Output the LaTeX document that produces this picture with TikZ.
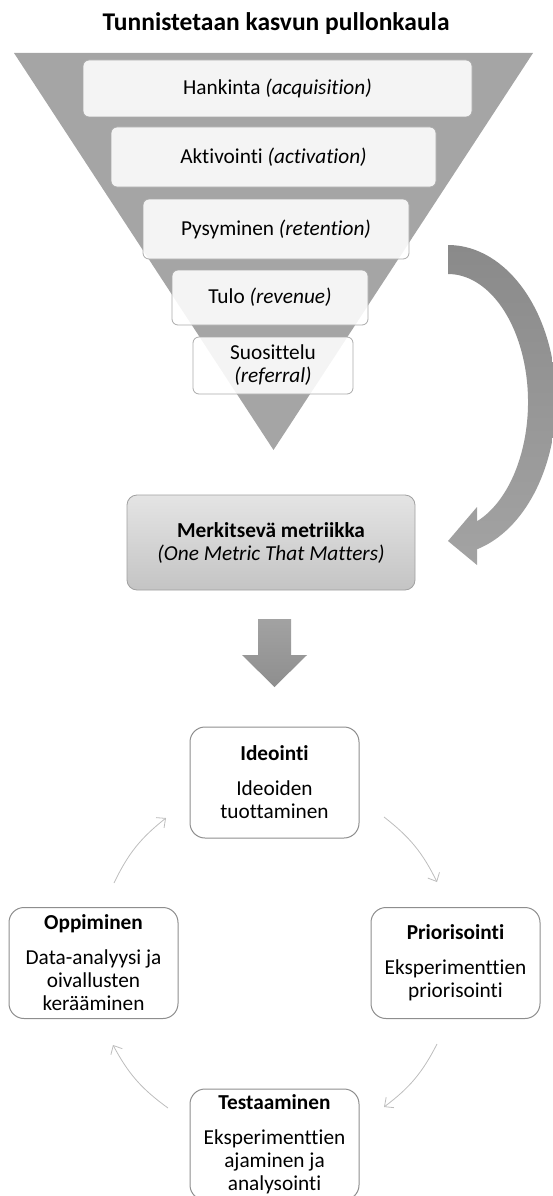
\documentclass[tikz,border=0pt]{standalone}
\usepackage{fontspec}
\setmainfont{Carlito}[Ligatures=CommonOff]
\usetikzlibrary{arrows.meta}

\definecolor{funnelgray}{HTML}{A5A5A5}
\definecolor{stageline}{HTML}{AAAAAA}
\definecolor{bigarrowtop}{HTML}{8A8A8A}
\definecolor{bigarrowbot}{HTML}{A3A3A3}
\definecolor{omtmtop}{HTML}{E4E4E4}
\definecolor{omtmbot}{HTML}{C4C4C4}
\definecolor{omtmline}{HTML}{A0A0A0}
\definecolor{downtop}{HTML}{A2A2A2}
\definecolor{downbot}{HTML}{8E8E8E}
\definecolor{cycleline}{HTML}{8E8E8E}
\definecolor{looparrow}{HTML}{BDBDBD}

\newcommand{\bodysize}{\fontsize{21.3}{23}\selectfont}
\newcommand{\titlesize}{\fontsize{25.5}{28}\selectfont}

\begin{document}
\begin{tikzpicture}[x=1pt,y=1pt,
  every node/.style={inner sep=0pt, outer sep=0pt, font=\bodysize},
  stage/.style={draw=stageline, line width=0.8pt, fill=white, fill opacity=0.88,
    text opacity=1, rounded corners=6pt, align=center},
  phase/.style={draw=cycleline, line width=1pt, fill=white, rounded corners=15pt,
    minimum width=169, minimum height=111, align=center},
  loop/.style={draw=looparrow, line width=0.8pt, bend left=13,
    -{Straight Barb[length=7pt,width=13pt]}}
]
\useasboundingbox (0,0) rectangle (553,-1196);
\clip (0,0) rectangle (553,-1196);

% heading
\node[font=\titlesize\bfseries] (title) at (276,-24) {Tunnistetaan kasvun pullonkaula};

% funnel
\fill[funnelgray] (14,-53) -- (533,-53) -- (273.5,-450) -- cycle;

\node[stage, minimum width=389, minimum height=57] (acq) at (277.5,-88.5)
  {Hankinta \textit{(acquisition)}};
\node[stage, minimum width=325, minimum height=60] (act) at (273.5,-157)
  {Aktivointi \textit{(activation)}};
\node[stage, minimum width=266, minimum height=60] (ret) at (276,-229)
  {Pysyminen \textit{(retention)}};
\node[stage, minimum width=196, minimum height=55] (rev) at (270,-297.5)
  {Tulo \textit{(revenue)}};
\node[stage, minimum width=160, minimum height=57] (ref) at (273,-365.5)
  {Suosittelu\\\textit{(referral)}};

% curved block arrow from the funnel to the metric
\shade[top color=bigarrowtop, bottom color=bigarrowbot]
  (448,-245) arc[start angle=90, end angle=-74.4, x radius=108, y radius=155]
  -- (477,-565) -- (448,-541) -- (477,-507) -- (477,-521.3)
  arc[start angle=-68.75, end angle=90, x radius=80, y radius=128] -- cycle;

% one metric that matters
\node[draw=omtmline, line width=0.8pt, top color=omtmtop, bottom color=omtmbot,
  rounded corners=10pt, minimum width=288, minimum height=95, align=center]
  (omtm) at (271,-542.5)
  {\textbf{Merkitsevä metriikka}\\\textit{(One Metric That Matters)}};

% down block arrow
\shade[top color=downtop, bottom color=downbot]
  (258,-619) -- (291,-619) -- (291,-655) -- (307,-655) -- (274.5,-687)
  -- (242,-655) -- (258,-655) -- cycle;

% growth cycle
\node[phase] (idea) at (274.5,-782.5)
  {\textbf{Ideointi}\\[12pt]Ideoiden\\tuottaminen};
\node[phase] (prio) at (455.5,-963)
  {\textbf{Priorisointi}\\[12pt]Eksperimenttien\\priorisointi};
\node[phase] (test) at (274.5,-1144.5)
  {\textbf{Testaaminen}\\[12pt]Eksperimenttien\\ajaminen ja\\analysointi};
\node[phase] (learn) at (93.5,-963)
  {\textbf{Oppiminen}\\[12pt]Data-analyysi ja\\oivallusten\\kerääminen};

\coordinate (ip0) at (384,-817);  \coordinate (ip1) at (437,-882);
\coordinate (pt0) at (437,-1044); \coordinate (pt1) at (384,-1107);
\coordinate (tl0) at (168,-1108); \coordinate (tl1) at (113,-1045);
\coordinate (li0) at (114,-883);  \coordinate (li1) at (166,-818);

\draw[loop] (ip0) to (ip1);
\draw[loop] (pt0) to (pt1);
\draw[loop] (tl0) to (tl1);
\draw[loop] (li0) to (li1);
\end{tikzpicture}
\end{document}
